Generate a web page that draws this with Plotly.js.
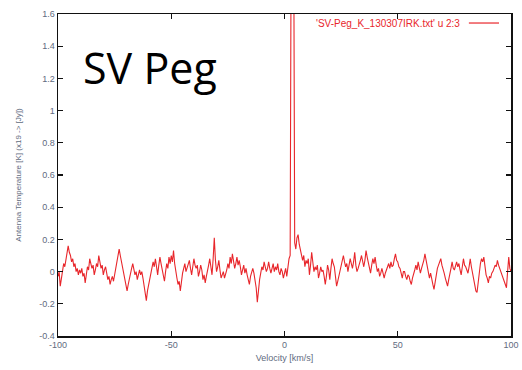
<!DOCTYPE html>
<html><head><meta charset="utf-8">
<script src="https://cdn.plot.ly/plotly-3.0.1.min.js"></script>
<style>html,body{margin:0;padding:0;background:#fff;}#chart{width:522px;height:370px;}</style>
</head><body><div id="chart"></div>
<script>
// Velocity [km/s]
const velocity = [
-100,-99.5,-99,-98.5,-98,-97.5,-97,-96.5,-96,-95.5,-95,-94.5,-94,-93.5,-93,-92.5,-92,-91.5,-91,-90.5,
-90,-89.5,-89,-88.5,-88,-87.5,-87,-86.5,-86,-85.5,-85,-84.5,-84,-83.5,-83,-82.5,-82,-81.5,-81,-80.5,
-80,-79.5,-79,-78.5,-78,-77.5,-77,-76.5,-76,-75.5,-75,-74.5,-74,-73.5,-73,-72.5,-72,-71.5,-71,-70.5,
-70,-69.5,-69,-68.5,-68,-67.5,-67,-66.5,-66,-65.5,-65,-64.5,-64,-63.5,-63,-62.5,-62,-61.5,-61,-60.5,
-60,-59.5,-59,-58.5,-58,-57.5,-57,-56.5,-56,-55.5,-55,-54.5,-54,-53.5,-53,-52.5,-52,-51.5,-51,-50.5,
-50,-49.5,-49,-48.5,-48,-47.5,-47,-46.5,-46,-45.5,-45,-44.5,-44,-43.5,-43,-42.5,-42,-41.5,-41,-40.5,
-40,-39.5,-39,-38.5,-38,-37.5,-37,-36.5,-36,-35.5,-35,-34.5,-34,-33.5,-33,-32.5,-32,-31.5,-31,-30.5,
-30,-29.5,-29,-28.5,-28,-27.5,-27,-26.5,-26,-25.5,-25,-24.5,-24,-23.5,-23,-22.5,-22,-21.5,-21,-20.5,
-20,-19.5,-19,-18.5,-18,-17.5,-17,-16.5,-16,-15.5,-15,-14.5,-14,-13.5,-13,-12.5,-12,-11.5,-11,-10.5,
-10,-9.5,-9,-8.5,-8,-7.5,-7,-6.5,-6,-5.5,-5,-4.5,-4,-3.5,-3,-2.5,-2,-1.5,-1,-0.5,
0,0.5,1,1.5,2,2.5,3,3.5,4,4.5,5,5.5,6,6.5,7,7.5,8,8.5,9,9.5,
10,10.5,11,11.5,12,12.5,13,13.5,14,14.5,15,15.5,16,16.5,17,17.5,18,18.5,19,19.5,
20,20.5,21,21.5,22,22.5,23,23.5,24,24.5,25,25.5,26,26.5,27,27.5,28,28.5,29,29.5,
30,30.5,31,31.5,32,32.5,33,33.5,34,34.5,35,35.5,36,36.5,37,37.5,38,38.5,39,39.5,
40,40.5,41,41.5,42,42.5,43,43.5,44,44.5,45,45.5,46,46.5,47,47.5,48,48.5,49,49.5,
50,50.5,51,51.5,52,52.5,53,53.5,54,54.5,55,55.5,56,56.5,57,57.5,58,58.5,59,59.5,
60,60.5,61,61.5,62,62.5,63,63.5,64,64.5,65,65.5,66,66.5,67,67.5,68,68.5,69,69.5,
70,70.5,71,71.5,72,72.5,73,73.5,74,74.5,75,75.5,76,76.5,77,77.5,78,78.5,79,79.5,
80,80.5,81,81.5,82,82.5,83,83.5,84,84.5,85,85.5,86,86.5,87,87.5,88,88.5,89,89.5,
90,90.5,91,91.5,92,92.5,93,93.5,94,94.5,95,95.5,96,96.5,97,97.5,98,98.5,99,99.5,
100];
// Antenna temperature [K]
const temperature = [
-0.03,0.00,-0.09,-0.04,-0.02,0.05,0.03,0.07,0.10,0.16,0.12,0.10,0.06,0.08,0.03,0.05,0.00,0.02,-0.02,0.01,
-0.01,0.02,-0.03,-0.01,-0.07,-0.02,0.03,0.01,0.08,0.05,0.02,0.04,-0.02,0.01,0.05,0.03,0.10,0.06,0.02,0.04,
-0.02,0.01,0.03,-0.01,-0.05,-0.03,-0.08,-0.05,-0.03,-0.06,-0.02,0.01,0.04,0.09,0.14,0.10,0.06,0.03,-0.02,-0.05,
-0.09,-0.12,-0.08,-0.04,0.00,0.02,0.05,0.01,-0.02,0.00,-0.05,-0.02,0.01,-0.02,0.00,-0.04,-0.08,-0.12,-0.18,-0.12,
-0.08,-0.06,-0.02,0.02,0.06,0.03,0.08,0.03,-0.02,0.04,0.09,0.05,0.02,-0.02,-0.06,0.00,0.05,0.02,0.09,0.05,
0.10,0.06,0.13,0.05,-0.01,-0.04,-0.08,-0.06,-0.12,-0.06,-0.01,0.02,0.05,0.00,0.02,0.04,0.07,0.02,-0.02,0.03,
0.08,0.04,0.02,0.04,-0.03,0.00,0.04,0.01,-0.05,-0.02,-0.07,-0.03,0.02,0.04,0.08,0.03,-0.02,0.08,0.21,0.07,
0.00,0.03,0.07,0.01,-0.04,-0.02,0.00,-0.04,-0.02,0.01,0.05,0.02,0.09,0.05,0.11,0.06,0.02,0.05,0.09,0.04,
0.07,0.03,-0.02,0.01,0.04,-0.01,0.02,-0.02,-0.06,-0.08,-0.03,-0.01,0.02,-0.01,-0.05,-0.10,-0.19,-0.10,-0.05,-0.01,
0.03,0.01,0.06,0.03,0.00,0.02,0.06,0.02,-0.01,0.02,0.05,0.00,0.03,0.01,0.05,0.00,-0.02,0.02,0.00,-0.04,
-0.01,0.02,-0.03,0.04,0.08,0.10,2.40,2.40,2.40,0.18,0.14,0.21,0.23,0.17,0.14,0.09,0.07,0.10,0.03,0.07,
0.05,0.08,-0.02,0.04,0.12,0.06,0.00,0.03,0.01,0.04,-0.04,-0.01,0.03,0.00,0.01,-0.03,-0.08,-0.03,0.04,0.01,
-0.05,0.02,0.08,0.05,0.03,-0.03,-0.09,-0.06,-0.03,0.01,0.05,0.08,0.10,0.06,0.03,0.05,0.00,0.04,0.08,0.05,
0.02,0.06,0.12,0.04,0.00,0.02,0.04,0.07,0.10,0.06,0.03,0.07,0.13,0.09,0.06,0.03,-0.01,0.04,0.08,0.05,
0.09,0.04,0.00,0.02,-0.03,-0.01,0.02,-0.01,-0.04,-0.01,0.01,0.03,0.05,0.02,0.06,0.03,0.04,0.08,0.11,0.07,
0.06,0.03,0.02,-0.01,-0.04,0.00,0.00,-0.03,-0.05,-0.02,-0.03,-0.06,-0.08,-0.04,-0.02,0.01,0.04,0.01,0.06,0.02,
-0.01,0.02,0.04,0.07,0.11,0.07,0.04,0.00,-0.04,-0.01,-0.06,-0.08,-0.11,-0.06,-0.02,0.02,0.04,0.06,0.08,0.04,
0.02,-0.01,-0.04,-0.06,-0.09,-0.05,-0.02,0.02,0.06,0.02,0.01,0.04,0.06,0.03,0.05,0.01,-0.02,0.03,0.08,0.04,
0.03,0.01,-0.01,0.03,0.08,0.03,-0.01,-0.05,-0.10,-0.12,-0.13,-0.06,0.00,0.05,0.08,0.06,0.09,0.03,-0.02,-0.04,
-0.07,-0.03,-0.04,-0.01,0.00,0.02,0.04,0.03,0.07,0.04,0.02,0.00,-0.02,-0.04,-0.06,-0.08,-0.10,0.00,0.09,0.02,
0.00];

const xTickVals = [-100,-50,0,50,100];
const xTickText = ["-100","-50","0","50","100"];
const yTickVals = [-0.4,-0.2,0,0.2,0.4,0.6,0.8,1,1.2,1.4,1.6];
const yTickText = ["-0.4","-0.2","0","0.2","0.4","0.6","0.8","1","1.2","1.4","1.6"];

const lineRed = '#e8262b';
const labelColor = '#5f6b80';

const trace = {
  x: velocity, y: temperature, type: 'scatter', mode: 'lines',
  line: {color: lineRed, width: 1.1}, showlegend: false
};

const axisCommon = {
  showline: true, linecolor: '#111', linewidth: 1.5, mirror: 'ticks',
  ticks: 'inside', ticklen: 5, tickwidth: 1.2, tickcolor: '#111',
  showgrid: false, zeroline: false, tickmode: 'array',
  tickfont: {family: 'Liberation Sans, Arial, sans-serif', size: 9, color: labelColor}
};

const layout = {
  width: 522, height: 370,
  margin: {l: 58, r: 11, t: 14, b: 34},
  paper_bgcolor: '#fff', plot_bgcolor: '#fff',
  xaxis: Object.assign({}, axisCommon, {
    range: [-100, 100], tickvals: xTickVals, ticktext: xTickText,
    title: {text: 'Velocity [km/s]', standoff: 5, font: {family: 'Liberation Sans, Arial, sans-serif', size: 9, color: labelColor}}
  }),
  yaxis: Object.assign({}, axisCommon, {
    range: [-0.4, 1.6], tickvals: yTickVals, ticktext: yTickText,
    title: {text: 'Antenna Temperature [K] (x19 -> [Jy])', standoff: 16, font: {family: 'Liberation Sans, Arial, sans-serif', size: 8, color: labelColor}}
  }),
  annotations: [
    {text: 'SV Peg', xref: 'paper', yref: 'paper', x: 0.05, y: 0.835, xanchor: 'left', yanchor: 'middle',
     showarrow: false, font: {family: 'Open Sans, sans-serif', size: 43, color: '#000'}},
    {text: "'SV-Peg_K_130307IRK.txt' u 2:3", xref: 'paper', yref: 'paper', x: 0.892, y: 0.972,
     xanchor: 'right', yanchor: 'middle', showarrow: false,
     font: {family: 'Liberation Sans, Arial, sans-serif', size: 10, color: lineRed}}
  ],
  shapes: [
    {type: 'line', xref: 'paper', yref: 'paper', x0: 0.907, x1: 0.9735, y0: 0.972, y1: 0.972,
     line: {color: lineRed, width: 1.2}}
  ]
};

Plotly.newPlot('chart', [trace], layout, {displayModeBar: false, staticPlot: true});
</script></body></html>
